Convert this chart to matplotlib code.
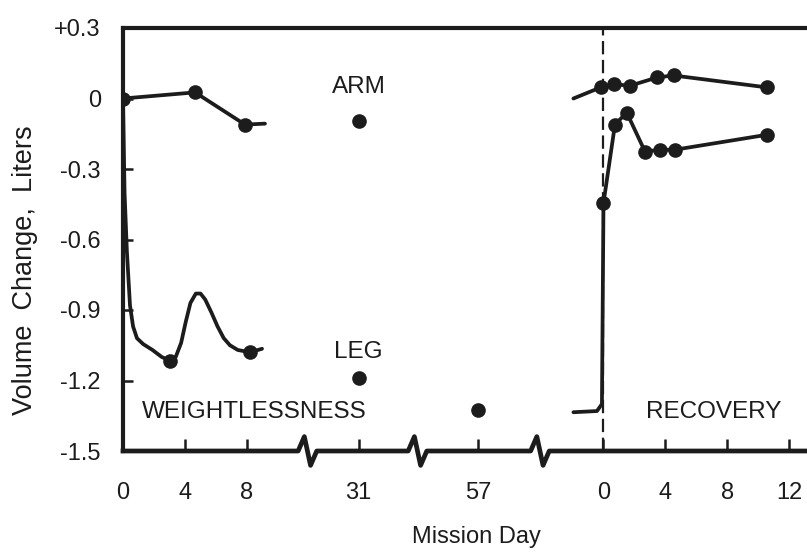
import matplotlib
matplotlib.use("Agg")
import matplotlib.pyplot as plt
import matplotlib.transforms as mtransforms

plt.rcParams['font.family'] = ['Liberation Sans', 'DejaVu Sans']

INK = '#1c1c1c'

# ---- data (x in plot position units: in-flight day d -> d, day 31 -> 15.2, day 57 -> 22.9, recovery day r -> 31 + r)
arm_flight_x = [0.0, 4.65, 7.87, 9.16]
arm_flight_y = [0.0, 0.026, -0.111, -0.107]
arm_flight_marked = [0, 1, 2]

leg_flight_x = [0.0, 0.1, 0.25, 0.45, 0.65, 0.9, 1.3, 1.9, 2.5, 3.03, 3.4, 3.75, 4.05,
                4.35, 4.7, 5.0, 5.3, 5.7, 6.1, 6.5, 6.9, 7.4, 8.2, 8.97]
leg_flight_y = [0.0, -0.4, -0.65, -0.88, -0.97, -1.02, -1.045, -1.07, -1.10, -1.115, -1.10,
                -1.04, -0.95, -0.87, -0.83, -0.83, -0.855, -0.91, -0.97, -1.02, -1.05, -1.07, -1.08, -1.065]
leg_flight_marked = [9, 22]

day31_pos = 15.2
day57_pos = 22.9
arm_day31 = -0.094
leg_day31 = -1.19
leg_day57 = -1.325

rec_origin = 31.0
arm_rec_days = [-1.94, -0.19, 0.65, 1.74, 3.48, 4.52, 10.58]
arm_rec_vals = [0.0, 0.047, 0.06, 0.055, 0.09, 0.098, 0.047]
arm_rec_marked = [1, 2, 3, 4, 5, 6]

leg_rec_days = [-1.94, -0.42, -0.1, 0.0, 0.74, 1.5, 2.68, 3.65, 4.6, 10.58]
leg_rec_vals = [-1.335, -1.33, -1.30, -0.445, -0.111, -0.06, -0.226, -0.218, -0.218, -0.154]
leg_rec_marked = [3, 4, 5, 6, 7, 8, 9]

xtick_pos = [0, 4, 8, 15.2, 22.9, 31, 35, 39, 43]
xtick_labels = ['0', '4', '8', '31', '57', '0', '4', '8', '12']
ytick_vals = [0.3, 0.0, -0.3, -0.6, -0.9, -1.2, -1.5]
ytick_labels = ['+0.3', '0', '-0.3', '-0.6', '-0.9', '-1.2', '-1.5']
break_pos = [11.9, 19.0, 26.9]

fig = plt.figure(figsize=(8.07, 5.54), dpi=100)
ax = fig.add_axes([123 / 807, 1 - 451 / 554, 1 - 123 / 807, (451 - 28) / 554])
ax.set_xlim(0, 44.13)
ax.set_ylim(-1.5, 0.3)

lw = 2.7
ms = 9.5

def plot_series(xs, ys, marked):
    ax.plot(xs, ys, color=INK, lw=lw, solid_capstyle='round', solid_joinstyle='round', zorder=3)
    ax.plot([xs[i] for i in marked], [ys[i] for i in marked], 'o', color=INK, ms=ms, zorder=4)

plot_series(arm_flight_x, arm_flight_y, arm_flight_marked)
plot_series(leg_flight_x, leg_flight_y, leg_flight_marked)
ax.plot([day31_pos, day31_pos, day57_pos], [arm_day31, leg_day31, leg_day57], 'o', color=INK, ms=ms, zorder=4)
plot_series([rec_origin + d for d in arm_rec_days], arm_rec_vals, arm_rec_marked)
plot_series([rec_origin + d for d in leg_rec_days], leg_rec_vals, leg_rec_marked)

# dashed recovery start line
ax.axvline(rec_origin, color=INK, lw=1.6, ls=(0, (6, 2.5)), zorder=2)

# spines
for s in ['right', 'bottom']:
    ax.spines[s].set_visible(False)
ax.spines['left'].set_linewidth(3.0)
ax.spines['top'].set_linewidth(3.0)
ax.spines['left'].set_color(INK)
ax.spines['top'].set_color(INK)

# bottom axis with break marks
trans = mtransforms.blended_transform_factory(ax.transData, ax.transAxes)
bx, by = [0.0], [0.0]
for c in break_pos:
    bx += [c - 0.6, c - 0.2, c + 0.2, c + 0.6]
    by += [0.0, 0.034, -0.034, 0.0]
bx.append(44.13)
by.append(0.0)
ax.plot(bx, by, color=INK, lw=3.4, transform=trans, clip_on=False, zorder=5,
        solid_joinstyle='round')

ax.set_xticks(xtick_pos)
ax.set_xticklabels(xtick_labels)
ax.set_yticks(ytick_vals)
ax.set_yticklabels(ytick_labels)
ax.tick_params(axis='x', direction='in', length=9, width=1.8, color=INK, pad=22,
               labelsize=17, labelcolor=INK)
ax.tick_params(axis='y', direction='in', length=7, width=1.8, color=INK, pad=16,
               labelsize=17, labelcolor=INK)

ax.set_xlabel('Mission Day', fontsize=17, color=INK)
ax.xaxis.label.set_va('center')
ax.xaxis.set_label_coords((476 - 123) / 684, -(537 - 451) / 423)
ax.set_ylabel('Volume  Change,  Liters', fontsize=19.5, color=INK)
ax.yaxis.label.set_va('center')
ax.yaxis.set_label_coords((25 - 123) / 684, (451 - 270) / 423)

ax.text(day31_pos, 0.047, 'ARM', ha='center', va='center', fontsize=17.5, color=INK)
ax.text(day31_pos, -1.078, 'LEG', ha='center', va='center', fontsize=17.5, color=INK)
ax.text(8.45, -1.334, 'WEIGHTLESSNESS', ha='center', va='center', fontsize=17.5, color=INK)
ax.text(38.1, -1.334, 'RECOVERY', ha='center', va='center', fontsize=17.5, color=INK)

fig.savefig('out.png', dpi=100)
